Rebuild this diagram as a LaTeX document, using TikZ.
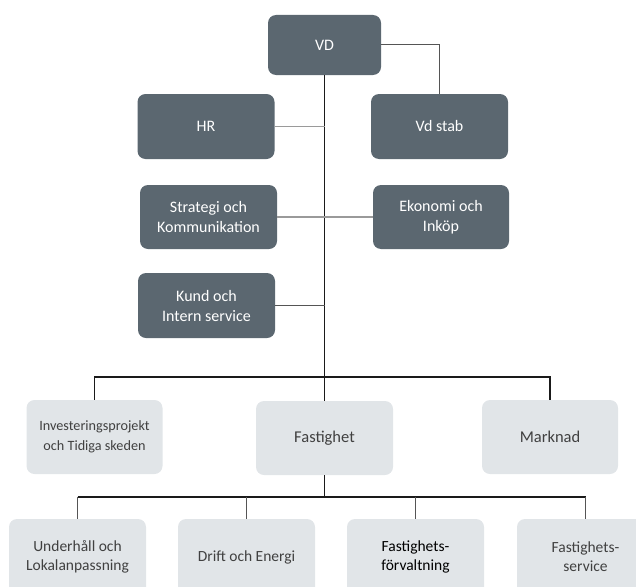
\documentclass[tikz,border=0pt]{standalone}
\usepackage{fontspec}
\setmainfont{Carlito}
\definecolor{darkbox}{HTML}{5B6770}
\definecolor{lightbox}{HTML}{E1E5E8}
\definecolor{lighttext}{HTML}{404040}
\definecolor{lineA}{HTML}{1A1A1A}
\definecolor{lineB}{HTML}{9A9A9A}
\definecolor{lineC}{HTML}{555555}
\begin{document}
\begin{tikzpicture}[x=1pt,y=-1pt,
  dbox/.style={rectangle,rounded corners=8pt,fill=darkbox,text=white,
    minimum width=137pt,minimum height=65pt,align=center,inner sep=2pt,
    font=\fontsize{16}{20}\selectfont},
  lbox/.style={rectangle,rounded corners=8pt,fill=lightbox,text=lighttext,
    minimum width=137pt,minimum height=74pt,align=center,inner sep=2pt,
    font=\fontsize{15.5}{19}\selectfont},
  mainline/.style={draw=lineA,line width=1.1pt},
  grayline/.style={draw=lineB,line width=1.1pt},
  midline/.style={draw=lineC,line width=1pt}]
\useasboundingbox (0,0) rectangle (636,586);
\node[dbox,minimum width=113pt,minimum height=60pt] (vd) at (324.5,45) {VD};
\node[dbox] (hr) at (206,126.5) {HR};
\node[dbox] (vdstab) at (439.5,126.5) {Vd stab};
\node[dbox,minimum height=64pt] (strat) at (208.5,217) {Strategi och\\Kommunikation};
\node[dbox,minimum width=136pt,minimum height=64pt] (eko) at (441,217) {Ekonomi och\\Inköp};
\node[dbox] (kund) at (206.5,305.5) {Kund och\\Intern service};
\node[lbox,minimum width=136pt,font=\fontsize{14.2}{20}\selectfont] (inv) at (94.5,437) {Investeringsprojekt\\och Tidiga skeden};
\node[lbox,font=\fontsize{16.5}{20}\selectfont] (fast) at (324.5,438) {Fastighet};
\node[lbox,minimum width=136pt,font=\fontsize{16.5}{20}\selectfont] (mark) at (550,437) {Marknad};
\node[lbox,minimum height=76pt] (und) at (77.5,557) {Underhåll och\\Lokalanpassning};
\node[lbox,minimum height=76pt] (drift) at (246.5,557) {Drift och Energi};
\node[lbox,minimum height=76pt,text=black] (forv) at (415.5,557) {Fastighets-\\förvaltning};
\node[lbox,minimum height=76pt] (serv) at (585.5,557) {Fastighets-\\service};
\coordinate (bar1) at (324.5,377);
\coordinate (bar2) at (324.5,497);
% trunk
\draw[mainline] (vd.south) -- (bar1) -- (fast.north);
\draw[midline] (vd.east) -| (vdstab.north);
\draw[grayline] (hr.east) -- (hr.east -| vd.south);
\draw[grayline] (strat.east) -- (eko.west);
\draw[midline] (kund.east) -- (kund.east -| vd.south);
% first bar
\draw[mainline] (inv.north) |- (bar1) -| (mark.north);
% second bar
\draw[mainline] (fast.south) -- (bar2);
\draw[mainline] (bar2 -| und.north) -- (bar2 -| serv.north);
\foreach \n in {und,drift,forv,serv}
  \draw[midline] (bar2 -| \n.north) -- (\n.north);
\end{tikzpicture}
\end{document}
